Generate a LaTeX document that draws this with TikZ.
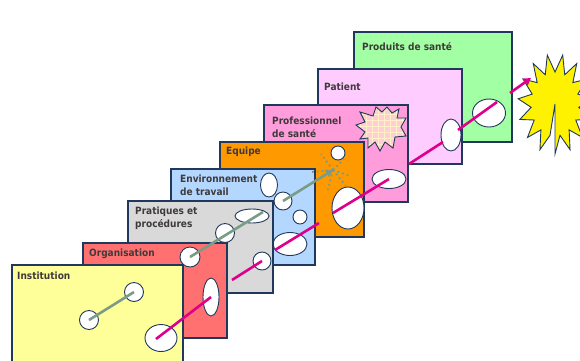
\documentclass[tikz,border=0pt]{standalone}
\usepackage{fontspec}
\usetikzlibrary{shapes.geometric,arrows.meta}
\newfontfamily\panelfont{DejaVu Sans Condensed}

\definecolor{edgeblue}{RGB}{31,56,92}
\definecolor{instcol}{RGB}{255,255,153}
\definecolor{orgcol}{RGB}{255,113,113}
\definecolor{praccol}{RGB}{217,217,217}
\definecolor{envcol}{RGB}{180,215,255}
\definecolor{equipcol}{RGB}{255,153,0}
\definecolor{procol}{RGB}{255,156,220}
\definecolor{patcol}{RGB}{255,204,255}
\definecolor{prodcol}{RGB}{163,255,163}
\definecolor{riskcol}{RGB}{222,0,140}
\definecolor{barcol}{RGB}{122,156,134}
\definecolor{labelcol}{RGB}{62,58,58}
\definecolor{burstcol}{RGB}{255,206,214}
\definecolor{gridcol}{RGB}{255,240,200}

\begin{document}
\begin{tikzpicture}[x=1pt,y=-1pt,
  layer/.style={draw=edgeblue, line width=1.1pt},
  hole/.style={draw=edgeblue, fill=white, line width=0.9pt, inner sep=0pt},
  rhole/.style={hole, circle, minimum size=#1},
  ehole/.style 2 args={hole, ellipse, minimum width=#1, minimum height=#2},
  lbl/.style={anchor=base west, inner sep=0pt, text=labelcol, align=left,
    font=\panelfont\bfseries\fontsize{10}{13.3}\selectfont},
  riskline/.style={draw=riskcol, line width=2.6pt},
  barline/.style={draw=barcol, line width=2.6pt},
  spark/.style={draw=barcol, line width=1.8pt, dash pattern=on 1.8pt off 3pt}]
\useasboundingbox (0,0) rectangle (580,360);
\clip (0,0) rectangle (580,360);
% outcome:
\draw[edgeblue, fill=yellow, line width=0.9pt] (555,54) ++(90:37 and 50)
  \foreach \k in {0,...,14}{ -- +({90+\k*24+12}:24 and 32) -- +({90+(\k+1)*24}:37 and 50)} -- cycle;
% Produits de sante:
\draw[layer, fill=prodcol] (354,32) rectangle (512,142);
\node[lbl] (prodlbl) at (362,50) {Produits de santé};
\node[ehole={33pt}{28pt}] (d1) at (489,113) {};
% Patient:
\draw[layer, fill=patcol] (318,69) rectangle (462,164);
\node[lbl] (patlbl) at (324,90) {Patient};
\node[ehole={20pt}{32pt}] (t1) at (451,135) {};
% Professionnel de sante:
\draw[layer, fill=procol] (264,105) rectangle (408,202);
\node[lbl] (prolbl) at (272,137.3) {Professionnel\\de santé};
\begin{scope}
\clip (360,112) -- (373,116) -- (376,107) -- (382,112) -- (387,107) -- (392,113) -- (399,109)
  -- (397,118) -- (406,118) -- (401,127) -- (406,136) -- (395,137) -- (393,148) -- (385,142)
  -- (380,151) -- (375,142) -- (368,148) -- (368,138) -- (360,139) -- (365,132) -- (356,125)
  -- (365,122) -- cycle;
\fill[burstcol] (350,100) rectangle (410,155);
\draw[gridcol, line width=0.6pt] (350,100) grid[step=6pt] (410,155);
\end{scope}
\draw[edgeblue, line width=0.9pt] (360,112) -- (373,116) -- (376,107) -- (382,112) -- (387,107)
  -- (392,113) -- (399,109) -- (397,118) -- (406,118) -- (401,127) -- (406,136) -- (395,137)
  -- (393,148) -- (385,142) -- (380,151) -- (375,142) -- (368,148) -- (368,138) -- (360,139)
  -- (365,132) -- (356,125) -- (365,122) -- cycle;
\node[ehole={34pt}{19pt}] (s1) at (389,179) {};
% Equipe:
\draw[layer, fill=equipcol] (220,142) rectangle (364,237);
\node[lbl] (equlbl) at (226,154) {Equipe};
\node[rhole=14pt] (q1) at (338,153) {};
\node[ehole={32pt}{42pt}] (q2) at (348,208) {};
\coordinate (m4s) at (333,213);
\draw[riskline] (m4s) -- (s1.center);
% Environnement de travail:
\draw[layer, fill=envcol] (171,169) rectangle (315,265);
\node[lbl] (envlbl) at (180,195.3) {Environnement\\de travail};
\node[ehole={17pt}{24pt}] (e1) at (269,185) {};
\node[rhole=18pt] (e2) at (283,201) {};
\node[rhole=14pt] (e3) at (300,217) {};
\node[ehole={34pt}{23pt}] (e4) at (290,244) {};
\coordinate (spk) at (333,170);
\foreach \tip in {(321,154),(344,159),(350,176),(346,186),(328,190),(311,172)}
  \draw[spark] (spk) -- \tip;
\draw[barline, -{Triangle[length=7pt,width=8pt]}] (e2.center) -- (spk);
\coordinate (m3s) at (275,250);
\coordinate (m3e) at (319,223);
\draw[riskline] (m3s) -- (m3e);
% Pratiques et procedures:
\draw[layer, fill=praccol] (128,201) rectangle (273,293);
\node[lbl] (pralbl) at (135,227.3) {Pratiques et\\procédures};
\node[rhole=19pt] (p1) at (225,233) {};
\node[ehole={34pt}{14pt}] (p2) at (252,216) {};
\node[rhole=18pt] (p3) at (262,261) {};
\coordinate (m2s) at (232,280);
\draw[riskline] (m2s) -- (p3.center);
% Organisation:
\draw[layer, fill=orgcol] (83,243) rectangle (227,338);
\node[lbl] (orglbl) at (89,256) {Organisation};
\node[rhole=20pt] (o1) at (190,257) {};
\node[ehole={16pt}{38pt}] (o2) at (211,297) {};
\coordinate (g2e) at (263,212);
\draw[barline] (o1.center) -- (g2e);
% Institution:
\draw[layer, fill=instcol] (12,265) rectangle (183,372);
\node[lbl] (inslbl) at (17,279) {Institution};
\node[rhole=19pt] (i1) at (89,320) {};
\node[rhole=19pt] (i2) at (134,292) {};
\node[ehole={32pt}{27pt}] (i3) at (161,338) {};
\draw[barline] (i1.center) -- (i2.center);
\coordinate (m1s) at (156,339);
\draw[riskline] (m1s) -- (o2.center);
% trajectory beyond the layers:
\coordinate (m5s) at (409,164);
\coordinate (m5e) at (443,142);
\coordinate (m6s) at (458,130);
\coordinate (m6e) at (497,102);
\coordinate (m7s) at (510,93);
\coordinate (m7e) at (531,78);
\draw[riskline] (m5s) -- (m5e);
\draw[riskline] (m6s) -- (m6e);
\draw[riskline, -{Triangle[length=7pt,width=8pt]}] (m7s) -- (m7e);
\end{tikzpicture}
\end{document}
